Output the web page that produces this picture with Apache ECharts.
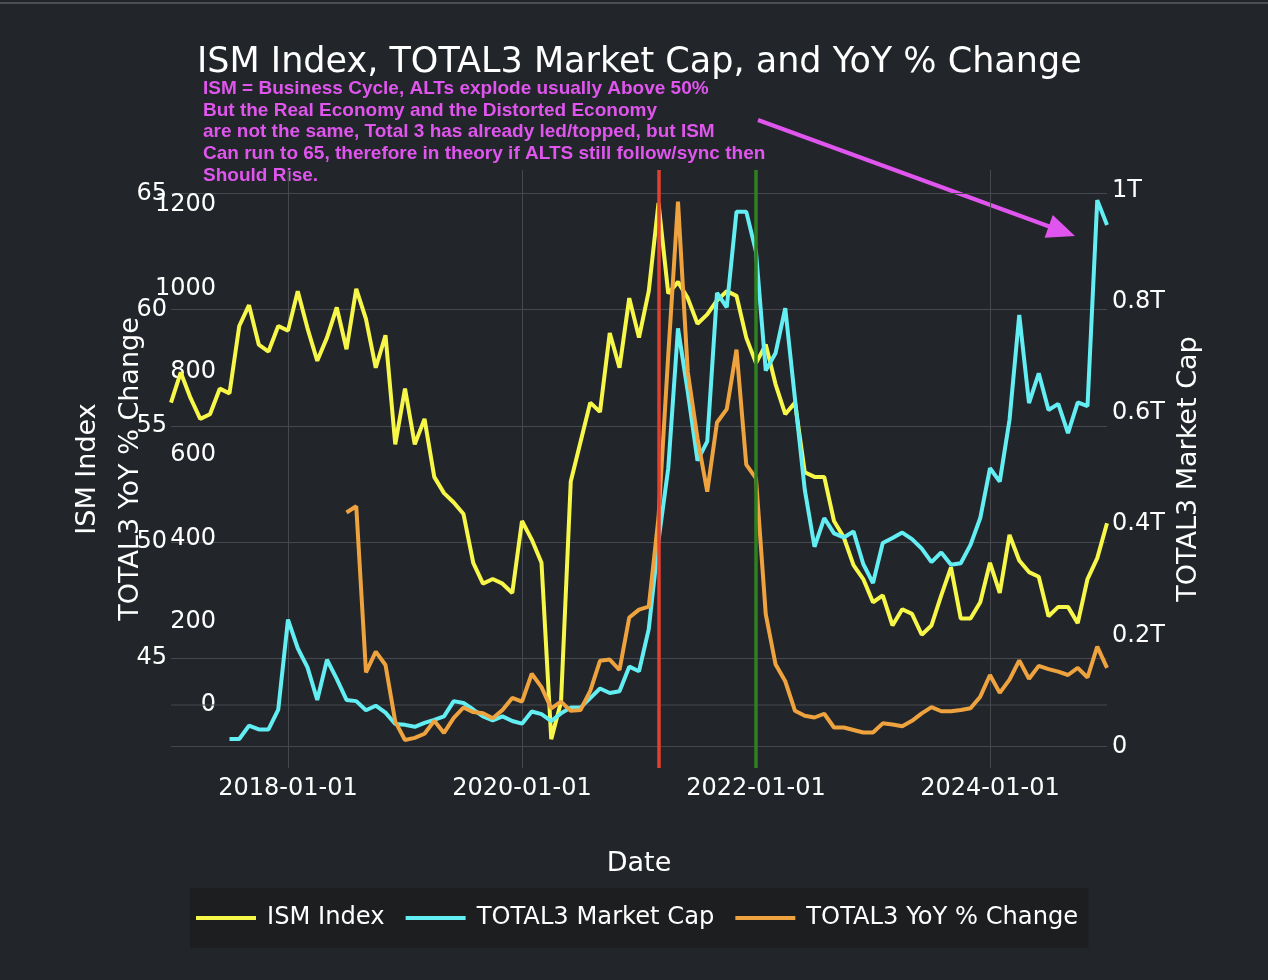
<!DOCTYPE html>
<html><head><meta charset="utf-8">
<script src="https://cdn.jsdelivr.net/npm/echarts@6/dist/echarts.min.js"></script>
<style>html,body{margin:0;padding:0;background:#222529;}#c{width:1268px;height:980px;}</style>
</head><body><div id="c"></div>
<script>
// ---- data (monthly, first value = 2017-01) ----
const startYear = 2017;
const ismIndex = [
  56.0, 57.3, 56.2, 55.3, 55.5, 56.6, 56.4, 59.3, 60.2, 58.5, 58.2, 59.3,
  59.1, 60.8, 59.2, 57.8, 58.8, 60.1, 58.3, 60.9, 59.6, 57.5, 58.9, 54.2,
  56.6, 54.2, 55.3, 52.8, 52.1, 51.7, 51.2, 49.1, 48.2, 48.4, 48.2, 47.8,
  50.9, 50.1, 49.1, 41.5, 43.1, 52.6, 54.3, 56.0, 55.6, 59.0, 57.5, 60.5,
  58.8, 60.8, 64.6, 60.7, 61.2, 60.5, 59.4, 59.8, 60.4, 60.8, 60.6, 58.8,
  57.7, 58.5, 56.8, 55.5, 56.0, 53.0, 52.8, 52.8, 50.9, 50.2, 49.0, 48.4,
  47.4, 47.7, 46.4, 47.1, 46.9, 46.0, 46.4, 47.7, 48.9, 46.7, 46.7, 47.4,
  49.1, 47.8, 50.3, 49.2, 48.7, 48.5, 46.8, 47.2, 47.2, 46.5, 48.4, 49.3,
  50.8
];
// TOTAL3 market cap, billions USD
const total3Cap = [
  null, null, null, null, null, null, 13.4, 13.4, 37.5, 30.6, 30.6, 66.5,
  228.3, 176.7, 142.3, 83.7, 156.0, 121.6, 83.7, 81.6, 65.1, 73.3, 60.9, 40.3,
  38.9, 35.4, 42.3, 47.9, 54.1, 81.6, 78.2, 66.5, 54.1, 46.8, 54.1, 45.8,
  41.0, 63.0, 58.2, 45.8, 59.6, 69.9, 69.9, 87.1, 104.3, 96.1, 99.5, 143.6,
  135.3, 211.1, 370.0, 500.5, 752.0, 638.2, 514.2, 548.7, 816.0, 789.8, 962.0, 962.0,
  889.7, 676.1, 707.1, 788.4, 624.5, 462.0, 359.2, 410.9, 383.3, 376.0, 386.8, 328.2,
  293.8, 366.1, 375.1, 384.7, 373.0, 355.8, 331.7, 349.0, 326.8, 329.6, 362.7, 410.9,
  500.5, 476.3, 587.2, 776.0, 617.6, 671.3, 605.2, 616.2, 563.8, 618.9, 612.1, 982.7,
  937.9
];
const total3YoY = [
  null, null, null, null, null, null, null, null, null, null, null, null,
  null, null, null, null, null, null, 462, 477, 78, 128, 96, -40,
  -84, -79, -69, -38, -67, -31, -6, -17, -20, -32, -12, 17,
  8, 75, 43, -8, 8, -14, -12, 34, 106, 109, 84, 210,
  229, 236, 450, 840, 1208, 800, 640, 512, 678, 710, 853, 577,
  544, 218, 98, 57, -14, -26, -30, -21, -54, -54, -60, -66,
  -66, -44, -47, -51, -38, -20, -5, -15, -15, -12, -8, 20,
  72, 29, 61, 107, 63, 94, 86, 80, 72, 89, 66, 140,
  89
];
const xTickLabels = ['2018-01-01', '2020-01-01', '2022-01-01', '2024-01-01'];
const markerDates = ['2021-03-01', '2022-01-01'];
const seriesNames = ['ISM Index', 'TOTAL3 Market Cap', 'TOTAL3 YoY % Change'];
const noteLines = [
  'ISM = Business Cycle, ALTs explode usually Above 50%',
  'But the Real Economy and the Distorted Economy',
  'are not the same, Total 3 has already led/topped, but ISM',
  'Can run to 65, therefore in theory if ALTS still follow/sync then',
  'Should Rise.'
];

// ---- helpers ----
const monthIndex = s => (parseInt(s.slice(0, 4)) - startYear) * 12 + (parseInt(s.slice(5, 7)) - 1);
const toPairs = arr => arr.map((v, i) => [i, v]);
const nMonths = ismIndex.length - 1;
const labelByIndex = {};
xTickLabels.forEach(s => { labelByIndex[monthIndex(s)] = s; });

const FONT = 'DejaVu Sans';
const GRID = '#45484c';
const txt = { color: '#ffffff', fontFamily: FONT, fontSize: 24 };
const LW = 4;

const chart = echarts.init(document.getElementById('c'), null, { renderer: 'canvas' });
chart.setOption({
  backgroundColor: '#222529',
  animation: false,
  title: {
    text: 'ISM Index, TOTAL3 Market Cap, and YoY % Change',
    left: 192, top: 40,
    textStyle: { color: '#ffffff', fontFamily: FONT, fontSize: 35, fontWeight: 'normal' }
  },
  legend: {
    data: seriesNames.map(n => ({ name: n, icon: 'rect' })),
    left: 190, top: 888,
    padding: [18, 10, 18, 6],
    itemGap: 21, itemWidth: 60, itemHeight: 4,
    backgroundColor: '#1d1e1f',
    textStyle: Object.assign({}, txt, { fontSize: 24.2, padding: [0, 0, 0, 6] })
  },
  grid: { left: 171, right: 161, top: 170, bottom: 212, containLabel: false },
  xAxis: {
    type: 'value', min: 0, max: nMonths, interval: 12,
    name: 'Date', nameLocation: 'middle', nameGap: 82,
    nameTextStyle: { color: '#fff', fontFamily: FONT, fontSize: 27 },
    axisLine: { show: false }, axisTick: { show: false },
    axisLabel: Object.assign({}, txt, { margin: 9, formatter: v => labelByIndex[v] || '' }),
    splitLine: { show: true, lineStyle: { color: ['rgba(0,0,0,0)', GRID], width: 1 } }
  },
  yAxis: [
    {
      type: 'value', position: 'left', min: 40.26, max: 66.02, minInterval: 5, maxInterval: 5,
      name: 'ISM Index', nameLocation: 'middle', nameRotate: 90, nameGap: 70,
      nameTextStyle: { color: '#fff', fontFamily: FONT, fontSize: 27 },
      axisLine: { show: false }, axisTick: { show: false },
      axisLabel: Object.assign({}, txt, { margin: 4, showMinLabel: false, showMaxLabel: false }),
      splitLine: { show: true, showMinLine: false, showMaxLine: false, lineStyle: { color: GRID, width: 1 } }
    },
    {
      type: 'value', position: 'left', offset: -49, min: -151.2, max: 1284, minInterval: 200, maxInterval: 200,
      name: 'TOTAL3 YoY % Change', nameLocation: 'middle', nameRotate: 90, nameGap: 57,
      nameTextStyle: { color: '#fff', fontFamily: FONT, fontSize: 27 },
      axisLine: { show: false }, axisTick: { show: false },
      axisLabel: Object.assign({}, txt, { margin: 4, showMinLabel: false, showMaxLabel: false, formatter: v => String(v) }),
      splitLine: { show: false }
    },
    {
      type: 'value', position: 'right', min: -38.7, max: 1036.9, minInterval: 200, maxInterval: 200,
      name: 'TOTAL3 Market Cap', nameLocation: 'middle', nameRotate: 90, nameGap: 68,
      nameTextStyle: { color: '#fff', fontFamily: FONT, fontSize: 27 },
      axisLine: { show: false }, axisTick: { show: false },
      axisLabel: Object.assign({}, txt, {
        margin: 5, showMinLabel: false, showMaxLabel: false,
        formatter: v => v === 0 ? '0' : (v / 1000) + 'T'
      }),
      splitLine: { show: false }
    }
  ],
  series: [
    { name: 'zero-yoy', type: 'line', yAxisIndex: 1, z: 1, silent: true, symbol: 'none',
      data: [[0, 0], [nMonths, 0]], lineStyle: { color: GRID, width: 1 } },
    { name: 'zero-cap', type: 'line', yAxisIndex: 2, z: 1, silent: true, symbol: 'none',
      data: [[0, 0], [nMonths, 0]], lineStyle: { color: GRID, width: 1 } },
    { name: seriesNames[0], type: 'line', yAxisIndex: 0, symbol: 'none', data: toPairs(ismIndex),
      itemStyle: { color: '#f7f74a' }, lineStyle: { color: '#f7f74a', width: LW } },
    { name: seriesNames[1], type: 'line', yAxisIndex: 2, symbol: 'none', data: toPairs(total3Cap),
      itemStyle: { color: '#62eef3' }, lineStyle: { color: '#62eef3', width: LW } },
    { name: seriesNames[2], type: 'line', yAxisIndex: 1, symbol: 'none', data: toPairs(total3YoY),
      itemStyle: { color: '#eea33e' }, lineStyle: { color: '#eea33e', width: LW },
      markLine: {
        silent: true, symbol: 'none', label: { show: false },
        data: [
          { xAxis: monthIndex(markerDates[0]), lineStyle: { color: '#e0402e', width: 3.5, type: 'solid' } },
          { xAxis: monthIndex(markerDates[1]), lineStyle: { color: '#2f8020', width: 3.5, type: 'solid' } }
        ]
      }
    }
  ],
  graphic: [
    { type: 'rect', shape: { x: 0, y: 2, width: 1268, height: 2 }, style: { fill: '#4b4f54' }, silent: true },
    { type: 'text', left: 203, top: 78, silent: true,
      style: { text: noteLines.join('\n'), fill: '#df55ee', font: 'bold 19px "Liberation Sans", Arial, sans-serif', lineHeight: 21.7 } },
    { type: 'line', silent: true, shape: { x1: 758, y1: 120, x2: 1052, y2: 227.5 },
      style: { stroke: '#df55ee', lineWidth: 4 } },
    { type: 'polygon', silent: true, shape: { points: [[1075, 236], [1052.8, 215.1], [1044.6, 237.7]] },
      style: { fill: '#df55ee' } }
  ]
});
</script></body></html>
